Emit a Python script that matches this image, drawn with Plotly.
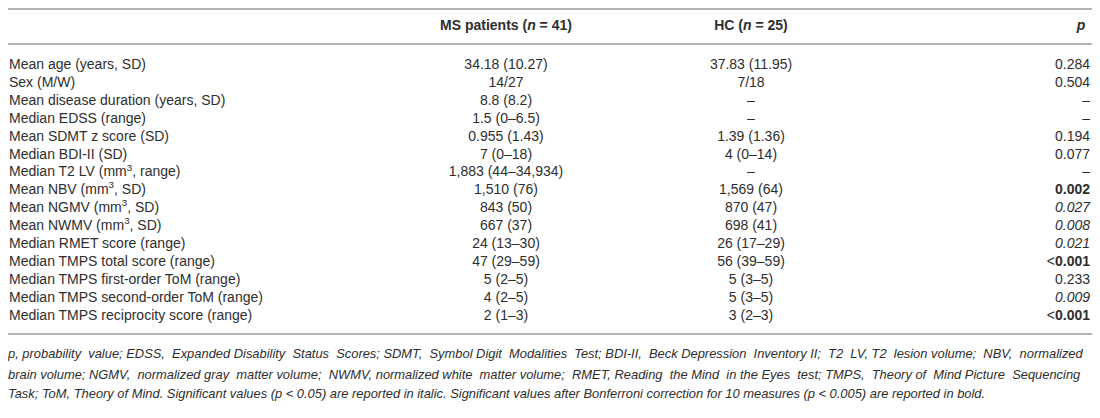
import plotly.graph_objects as go

# Table contents
labels = [
    "Mean age (years, SD)",
    "Sex (M/W)",
    "Mean disease duration (years, SD)",
    "Median EDSS (range)",
    "Mean SDMT z score (SD)",
    "Median BDI-II (SD)",
    "Median T2 LV (mm<sup>3</sup>, range)",
    "Mean NBV (mm<sup>3</sup>, SD)",
    "Mean NGMV (mm<sup>3</sup>, SD)",
    "Mean NWMV (mm<sup>3</sup>, SD)",
    "Median RMET score (range)",
    "Median TMPS total score (range)",
    "Median TMPS first-order ToM (range)",
    "Median TMPS second-order ToM (range)",
    "Median TMPS reciprocity score (range)",
]
ms_values = [
    "34.18 (10.27)", "14/27", "8.8 (8.2)", "1.5 (0–6.5)", "0.955 (1.43)",
    "7 (0–18)", "1,883 (44–34,934)", "1,510 (76)", "843 (50)", "667 (37)",
    "24 (13–30)", "47 (29–59)", "5 (2–5)", "4 (2–5)", "2 (1–3)",
]
hc_values = [
    "37.83 (11.95)", "7/18", "–", "–", "1.39 (1.36)",
    "4 (0–14)", "–", "1,569 (64)", "870 (47)", "698 (41)",
    "26 (17–29)", "56 (39–59)", "5 (3–5)", "5 (3–5)", "3 (2–3)",
]
p_values = [
    "0.284", "0.504", "–", "–", "0.194",
    "0.077", "–", "0.002", "0.027", "0.008",
    "0.021", "<0.001", "0.233", "0.009", "<0.001",
]
ms_n = 41
hc_n = 25
footnote_lines = [
    "p, probability value; EDSS, Expanded Disability Status Scores; SDMT, Symbol Digit Modalities Test; "
    "BDI-II, Beck Depression Inventory II; T2 LV, T2 lesion volume; NBV, normalized",
    "brain volume; NGMV, normalized gray matter volume; NWMV, normalized white matter volume; "
    "RMET, Reading the Mind in the Eyes test; TMPS, Theory of Mind Picture Sequencing",
    "Task; ToM, Theory of Mind. Significant values (p &lt; 0.05) are reported in italic. "
    "Significant values after Bonferroni correction for 10 measures (p &lt; 0.005) are reported in bold.",
]

W, H = 1100, 418
FONT = "Liberation Sans"
INK = "#2e2e2e"
SIZE = 14


def fmt_p(p):
    # italic below 0.05, bold below 0.005 (as the footnote says)
    if p.startswith("<"):
        return "&lt;<b>" + p[1:] + "</b>"
    try:
        v = float(p)
    except ValueError:
        return p
    if v < 0.005:
        return "<b>" + p + "</b>"
    if v < 0.05:
        return "<i>" + p + "</i>"
    return p


def justify(line, extra):
    # rough justification: spread `extra` additional spaces over the word gaps
    words = line.split(" ")
    gaps = len(words) - 1
    out = words[0]
    for i, w in enumerate(words[1:]):
        wide = (i + 1) * extra // gaps > i * extra // gaps
        out += ("\u00a0 " if wide else " ") + w
    return out


x_label, x_ms, x_hc, x_p, x_p_head = 1, 498, 743, 1082, 1073
header_y = 18
row0, step = 57.5, 17.9
rules = [1, 36, 326]
foot_y = [347, 367.5, 387]
foot_extra = [14, 11, 0]

ys = [row0 + step * i for i in range(len(labels))]
font = dict(family=FONT, size=SIZE, color=INK)

fig = go.Figure()
fig.add_trace(go.Scatter(x=[x_label] * len(labels), y=ys, text=labels, mode="text",
                         textposition="middle right", textfont=font, hoverinfo="skip"))
fig.add_trace(go.Scatter(x=[x_ms] * len(ms_values), y=ys, text=ms_values, mode="text",
                         textposition="middle center", textfont=font, hoverinfo="skip"))
fig.add_trace(go.Scatter(x=[x_hc] * len(hc_values), y=ys, text=hc_values, mode="text",
                         textposition="middle center", textfont=font, hoverinfo="skip"))
fig.add_trace(go.Scatter(x=[x_p] * len(p_values), y=ys, text=[fmt_p(p) for p in p_values],
                         mode="text", textposition="middle left", textfont=font, hoverinfo="skip"))

# header
headers = [f"<b>MS patients (<i>n</i> = {ms_n})</b>", f"<b>HC (<i>n</i> = {hc_n})</b>", "<b><i>p</i></b>"]
fig.add_trace(go.Scatter(x=[x_ms, x_hc, x_p_head], y=[header_y] * 3, text=headers, mode="text",
                         textposition="middle center", textfont=font, hoverinfo="skip"))

# footnote (last line of the paragraph is left ragged)
foot_text = ["<i>" + justify(t, e) + "</i>" for t, e in zip(footnote_lines, foot_extra)]
fig.add_trace(go.Scatter(x=[0] * len(footnote_lines), y=foot_y,
                         text=foot_text, mode="text", textposition="middle right",
                         textfont=dict(family=FONT, size=12.9, color=INK), hoverinfo="skip"))

for r in rules:
    fig.add_shape(type="line", x0=0, x1=W, y0=r, y1=r, xref="x", yref="y",
                  line=dict(color="#6b6b6b", width=1.2))

fig.update_layout(
    width=W, height=H,
    margin=dict(l=0, r=0, t=0, b=0),
    paper_bgcolor="white", plot_bgcolor="white",
    showlegend=False,
    xaxis=dict(range=[0, W], visible=False, fixedrange=True),
    yaxis=dict(range=[H, 0], visible=False, fixedrange=True),
)

fig.write_html("out.html")
